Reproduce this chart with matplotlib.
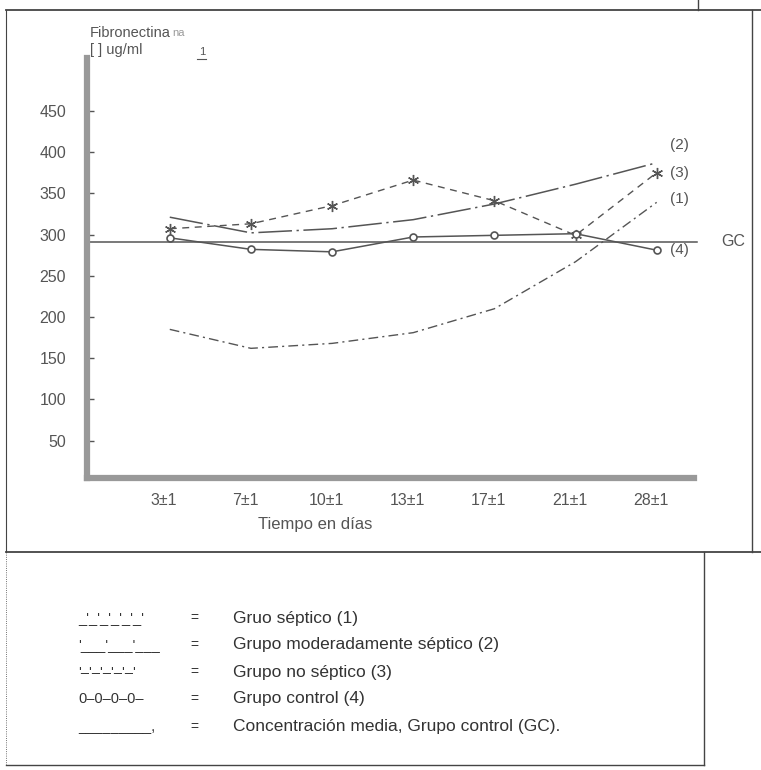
import numpy as np
import matplotlib.pyplot as plt
import matplotlib.transforms as mtransforms
from matplotlib.lines import Line2D

# datos (ug/ml)
dias = ['3±1', '7±1', '10±1', '13±1', '17±1', '21±1', '28±1']
septico = [185, 162, 168, 181, 210, 267, 339]        # (1)
moderado = [321, 302, 307, 318, 337, 361, 387]       # (2)
no_septico = [307, 313, 335, 366, 341, 299, 375]     # (3)
control = [296, 282, 279, 297, 299, 301, 281]        # (4)
gc = 291                                             # media grupo control
yticks = [50, 100, 150, 200, 250, 300, 350, 400, 450]

leyenda = ['Gruo séptico (1)',
           'Grupo moderadamente séptico (2)',
           'Grupo no séptico (3)',
           'Grupo control (4)',
           'Concentración media, Grupo control (GC).']
muestras = ["_'_'_'_'_'_'", "'___'___'___", "'–'–'–'–'–'", "0–0–0–0–", "_________,"]

plt.rcParams['font.family'] = ['Liberation Sans', 'DejaVu Sans']
gris = '#555555'
W, H = 761, 770

fig = plt.figure(figsize=(7.61, 7.70), dpi=100)
ax = fig.add_axes([87/W, 1-478/H, (694-87)/W, (478-58)/H])

x = np.arange(len(dias))
ax.plot(x, septico, color=gris, lw=1.0, linestyle=(0, (7, 3, 1.5, 3)))
ax.plot(x, moderado, color=gris, lw=1.1, linestyle=(0, (22, 3, 1.5, 3)))
ax.plot(x, no_septico, color=gris, lw=1.0, linestyle=(0, (5, 4)),
        marker=(6, 2, 0), markersize=8, markeredgewidth=1.0)
ax.plot(x, control, color=gris, lw=1.1, marker='o', markersize=5,
        markerfacecolor='white', markeredgecolor=gris, markeredgewidth=1.2)
ax.axhline(gc, xmin=0, xmax=1.005, color=gris, lw=1.1, clip_on=False)

ax.set_xlim(-1.02, 6.46)
ax.set_ylim(4.8, 514)

for s in ['top', 'right']:
    ax.spines[s].set_visible(False)
for s in ['left', 'bottom']:
    ax.spines[s].set_linewidth(4.5)
    ax.spines[s].set_color('#999999')

ax.set_yticks(yticks)
ax.set_xticks(x)
ax.set_xticklabels(dias)
ax.tick_params(axis='y', direction='in', length=5, width=1, color=gris,
               labelsize=11.5, labelcolor=gris, pad=15)
ax.tick_params(axis='x', length=0, labelsize=11.5, labelcolor=gris, pad=11)
off = mtransforms.ScaledTranslation(-6/100, 0, fig.dpi_scale_trans)
for lab in ax.get_xticklabels():
    lab.set_transform(lab.get_transform() + off)

# etiquetas de las curvas
for txt, yv in [('(2)', 408), ('(3)', 375), ('(1)', 343), ('(4)', 281)]:
    ax.text(6.16, yv, txt, fontsize=11, color=gris, va='center')
ax.text(6.8, gc, 'GC', fontsize=11.5, color=gris, va='center', clip_on=False)

# titulos
fig.text(90/W, 1-33/H, 'Fibronectina', fontsize=10.5, color=gris, va='center')
fig.text(172/W, 1-33/H, 'na', fontsize=8, color='#999999', va='center')
fig.text(90/W, 1-50/H, '[ ] ug/ml', fontsize=10.5, color=gris, va='center')
fig.text(199/W, 1-52/H, '1', fontsize=8, color=gris, va='center')
fig.text(315/W, 1-525/H, 'Tiempo en días', fontsize=12, color=gris,
         ha='center', va='center')

# marcos
def linea(xs, ys, **kw):
    fig.add_artist(Line2D([v/W for v in xs], [1-v/H for v in ys],
                          transform=fig.transFigure, **kw))

linea([197, 206], [59, 59], lw=0.8, color=gris)
linea([6, 761], [10, 10], lw=1.3, color='#444444')
linea([698, 698], [0, 10], lw=1.0, color='#444444')
linea([6, 6], [10, 552], lw=0.8, color='#444444')
linea([752, 752], [10, 552], lw=1.0, color='#444444')
linea([6, 761], [552, 552], lw=1.3, color='#444444')
linea([704, 704], [552, 765], lw=1.0, color='#444444')
linea([6, 704], [765, 765], lw=1.0, color='#444444')
linea([6, 6], [552, 765], lw=0.6, linestyle=':', color='#444444')

# leyenda
filas = [618, 645, 672, 699, 727]
for yv, m, t in zip(filas, muestras, leyenda):
    fig.text(78/W, 1-yv/H, m, fontsize=10.5, color='#333333', va='center')
    fig.text(190/W, 1-yv/H, '=', fontsize=10, color='#333333', va='center')
    fig.text(233/W, 1-yv/H, t, fontsize=12.5, color='#333333', va='center')

plt.savefig('out.png', dpi=100)
